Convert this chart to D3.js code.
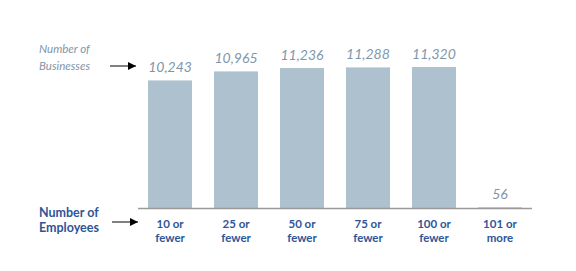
<!DOCTYPE html>
<html><head><meta charset="utf-8">
<script src="https://cdn.jsdelivr.net/npm/d3@7"></script>
<style>body{margin:0;background:#fff}svg{display:block}</style>
</head><body>
<script>
const categories = [["10 or","fewer"],["25 or","fewer"],["50 or","fewer"],["75 or","fewer"],["100 or","fewer"],["101 or","more"]];
const values = [10243, 10965, 11236, 11288, 11320, 56];
const valueLabels = ["10,243","10,965","11,236","11,288","11,320","56"];

const W = 576, H = 271;
const svg = d3.select("body").append("svg").attr("width", W).attr("height", H);
const font = "Lato, 'Open Sans', sans-serif";
const blue = "#2f5597", grey = "#7f96a8", barColor = "#adc2ce";

const x = d3.scaleBand().domain(d3.range(values.length)).range([138, 532]).paddingInner(1/3).paddingOuter(0.152);
const y = d3.scaleLinear().domain([0, 11320]).range([208, 67]);

svg.selectAll("rect.bar").data(values).join("rect")
  .attr("x", (d,i) => x(i)).attr("width", x.bandwidth())
  .attr("y", d => y(d)).attr("height", d => y(0) - y(d))
  .attr("fill", barColor);

svg.selectAll("text.val").data(values).join("text")
  .attr("x", (d,i) => x(i) + x.bandwidth()/2)
  .attr("y", d => y(d) - 8)
  .attr("text-anchor", "middle").attr("font-family", font).attr("font-style", "italic")
  .attr("font-size", 14).attr("fill", grey)
  .text((d,i) => valueLabels[i]);

svg.append("line").attr("x1", 138).attr("x2", 532).attr("y1", 208.5).attr("y2", 208.5)
  .attr("stroke", "#9a9a9a").attr("stroke-width", 1.5);

const cat = svg.selectAll("text.cat").data(categories).join("text")
  .attr("text-anchor", "middle").attr("font-family", font).attr("font-weight", "bold")
  .attr("font-size", 11.5).attr("fill", blue);
cat.each(function(d,i){
  const t = d3.select(this);
  d.forEach((line, j) => t.append("tspan").attr("x", x(i) + x.bandwidth()/2).attr("y", 228 + j*14).text(line));
});

svg.append("defs").append("marker").attr("id","ah").attr("viewBox","0 0 10 10")
  .attr("refX", 10).attr("refY", 5).attr("markerWidth", 8).attr("markerHeight", 8)
  .attr("markerUnits","userSpaceOnUse").attr("orient","auto")
  .append("path").attr("d","M0,0L10,5L0,10Z").attr("fill","#000");

const left1 = svg.append("text").attr("font-family", font).attr("font-style","italic")
  .attr("font-size", 11.5).attr("fill", grey);
left1.append("tspan").attr("x", 39).attr("y", 53).text("Number of");
left1.append("tspan").attr("x", 39).attr("y", 70).text("Businesses");
svg.append("line").attr("x1", 110).attr("x2", 136).attr("y1", 66).attr("y2", 66)
  .attr("stroke","#000").attr("stroke-width",1).attr("marker-end","url(#ah)");

const left2 = svg.append("text").attr("font-family", font).attr("font-weight","bold")
  .attr("font-size", 12.5).attr("fill", blue);
left2.append("tspan").attr("x", 39).attr("y", 217).text("Number of");
left2.append("tspan").attr("x", 39).attr("y", 232).text("Employees");
svg.append("line").attr("x1", 112).attr("x2", 138).attr("y1", 222).attr("y2", 222)
  .attr("stroke","#000").attr("stroke-width",1).attr("marker-end","url(#ah)");
</script>
</body></html>
